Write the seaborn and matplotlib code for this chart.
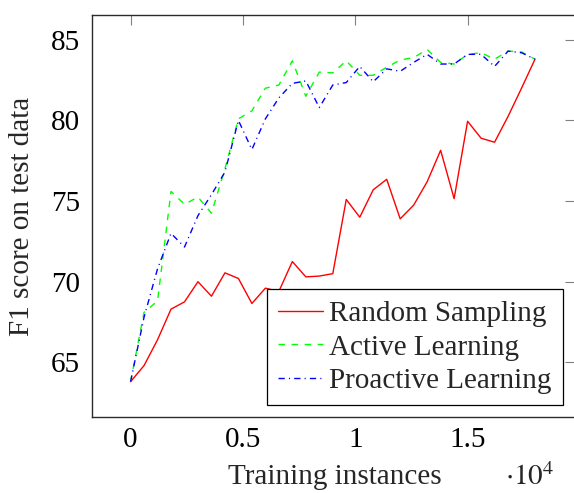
import matplotlib
matplotlib.use("Agg")
import matplotlib.pyplot as plt
import seaborn as sns
import pandas as pd
from matplotlib.ticker import FixedLocator, FuncFormatter

# ---- data ----
instances = [0, 600, 1200, 1800, 2400, 3000, 3600, 4200, 4800, 5400, 6000,
             6600, 7200, 7800, 8400, 9000, 9600, 10200, 10800, 11400, 12000,
             12600, 13200, 13800, 14400, 15000, 15600, 16200, 16800, 17400, 18000]

random_sampling = [63.8, 64.8, 66.4, 68.3, 68.75, 70.0, 69.1, 70.55, 70.2, 68.65, 69.6,
                   69.4, 71.25, 70.3, 70.35, 70.5, 75.1, 74.0, 75.7, 76.35, 73.9,
                   74.75, 76.2, 78.15, 75.15, 79.95, 78.9, 78.65, 80.25, 82.0, 83.8]

active_learning = [63.8, 68.1, 68.8, 75.6, 74.8, 75.25, 74.25, 77.0, 80.1, 80.6, 82.0,
                   82.2, 83.7, 81.5, 83.0, 82.95, 83.7, 82.8, 82.8, 83.3, 83.75,
                   83.9, 84.4, 83.6, 83.5, 84.1, 84.2, 83.8, 84.3, 84.25, 83.8]

proactive_learning = [63.8, 67.8, 70.8, 73.0, 72.15, 74.1, 75.4, 76.8, 80.0, 78.2, 80.1,
                      81.4, 82.3, 82.45, 80.8, 82.2, 82.35, 83.35, 82.4, 83.2, 83.05,
                      83.6, 84.1, 83.5, 83.5, 84.1, 84.1, 83.35, 84.3, 84.2, 83.8]

series_names = ["Random Sampling", "Active Learning", "Proactive Learning"]
x_ticks = [0, 5000, 10000, 15000]
y_ticks = [65, 70, 75, 80, 85]
x_label = "Training instances"
y_label = "F1 score on test data"

# ---- style ----
sns.set_theme(style="white")
plt.rcParams["font.family"] = ["Liberation Serif", "DejaVu Serif"]
plt.rcParams["mathtext.fontset"] = "stix"

FS = 21
fig = plt.figure(figsize=(5.74, 4.93), dpi=100)
W, H = 574, 493
left, right, top, bottom = 91.7, 575.0, 15.0, 417.0
ax = fig.add_axes([left / W, 1 - bottom / H, (right - left) / W, (bottom - top) / H])

styles = {
    "Random Sampling": dict(color="#ff0000", linestyle="-"),
    "Active Learning": dict(color="#00ff00", linestyle=(0, (4.7, 4.7))),
    "Proactive Learning": dict(color="#0000ff", linestyle=(0, (4.5, 3.0, 0.8, 3.0))),
}
values = [random_sampling, active_learning, proactive_learning]
for name, vals in zip(series_names, values):
    df = pd.DataFrame({"instances": instances, "f1": vals})
    sns.lineplot(data=df, x="instances", y="f1", ax=ax, label=name,
                 linewidth=1.0, **styles[name])

ax.set_xlim(-1730, 19780)
ax.set_ylim(61.61, 86.54)
ax.xaxis.set_major_locator(FixedLocator(x_ticks))
ax.xaxis.set_major_formatter(FuncFormatter(lambda v, p: f"{v / 1e4:g}"))
ax.yaxis.set_major_locator(FixedLocator(y_ticks))

ax.tick_params(axis="both", direction="in", length=7.2, width=0.8, color="#808080",
               labelsize=FS, top=True, right=True, labelcolor="black")
ax.tick_params(axis="y", pad=8.4)
ax.tick_params(axis="x", pad=7.0)
for sp in ax.spines.values():
    sp.set_color("#2b2b2b")
    sp.set_linewidth(1.0)

ax.set_xlabel(x_label, fontsize=FS)
ax.xaxis.label.set_va("baseline")
ax.xaxis.set_label_coords((334.5 - left) / (right - left), (bottom - 484) / (bottom - top))
ax.set_ylabel(y_label, fontsize=FS)
ax.yaxis.label.set_va("center")
ax.yaxis.set_label_coords((22 - left) / (right - left), (bottom - 216) / (bottom - top))

fig.text(505 / W, 1 - 485.0 / H, r"$\cdot 10^{4}$", fontsize=FS, ha="left", va="baseline")

leg = ax.legend(loc="upper right", bbox_to_anchor=(562.7 / W, 1 - 289.3 / H),
                bbox_transform=fig.transFigure, fontsize=FS, frameon=True,
                fancybox=False, edgecolor="black", framealpha=1.0,
                borderaxespad=0, borderpad=0.38, handlelength=1.55,
                handletextpad=0.22, labelspacing=0.25)
leg.get_frame().set_linewidth(0.9)

fig.savefig("out.png", dpi=100)
